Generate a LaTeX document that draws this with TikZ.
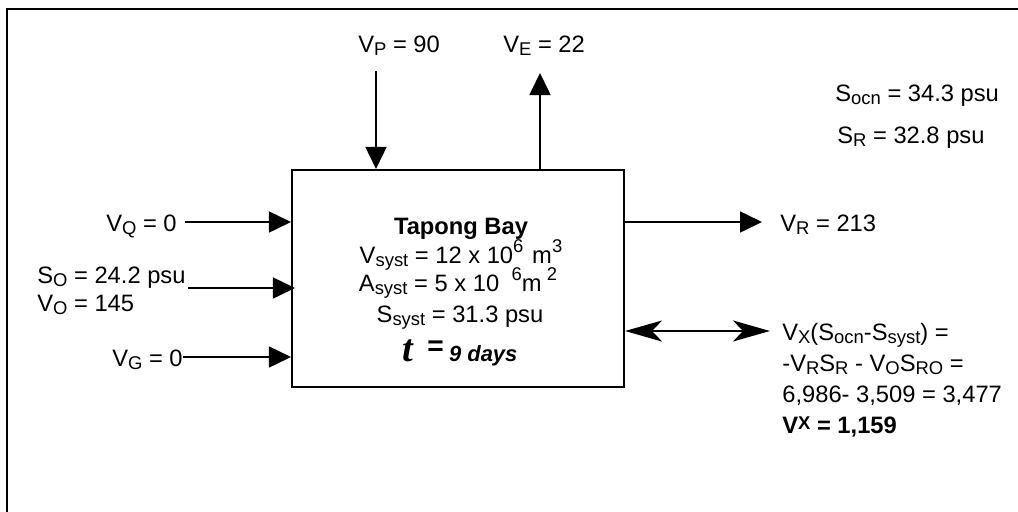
\documentclass[tikz,border=0pt]{standalone}
\usepackage{fontspec}
\setmainfont{Liberation Sans}
\newfontfamily\serifbi{Liberation Serif}
\usetikzlibrary{arrows.meta,positioning}

\newcommand{\subtxt}[1]{\raisebox{-0.3ex}{\fontsize{10.5}{10.5}\selectfont #1}}
\newcommand{\suptxt}[1]{\raisebox{0.8ex}{\fontsize{10.5}{10.5}\selectfont #1}}

\tikzset{
  frame/.style={draw=black, line width=1.1pt},
  baybox/.style={draw=black, line width=1.2pt, minimum width=6.64cm, minimum height=4.34cm, inner sep=0pt},
  lbl/.style={font=\fontsize{13.5}{16}\selectfont, inner sep=0pt},
  flow/.style={draw=black, line width=0.9pt, -{Triangle[length=0.44cm,width=0.42cm]}},
  exch/.style={draw=black, line width=1.2pt,
    {Stealth[length=0.74cm,width=0.42cm,inset=0.2cm]}-{Stealth[length=0.74cm,width=0.42cm,inset=0.2cm]}}
}

\begin{document}
\begin{tikzpicture}[x=0.02cm, y=-0.02cm]
  \useasboundingbox (0,0) rectangle (1018,511);
  % outer frame
  \draw[frame] (1030,9) -- (7,9) -- (7,520);

  % the bay
  \node[baybox] (bay) at (458,278.5) {};
  \node[lbl, anchor=base] (title) at (461,234) {\bfseries Tapong Bay};
  \node[lbl, anchor=base] (vsyst) at (461,263) {V\subtxt{syst} = 12 x 10\suptxt{6}\hspace{5pt}m\suptxt{3}};
  \node[lbl, anchor=base] (asyst) at (458,291) {A\subtxt{syst} = 5 x 10\hspace{7pt}\suptxt{6}m\hspace{3pt}\suptxt{2}};
  \node[lbl, anchor=base] (ssyst) at (460,322) {S\subtxt{syst} = 31.3 psu};
  \node[lbl, anchor=base] (tau) at (460,361) {{\fontsize{22}{22}\serifbi\bfseries\itshape t}\hspace{8pt}{\fontsize{16}{16}\selectfont\bfseries\raisebox{3pt}{=}}\hspace{3pt}{\fontsize{12.5}{14}\selectfont\bfseries\itshape 9 days}};

  % precipitation and evaporation
  \node[lbl, anchor=base west] (vp) at (358,52) {V\subtxt{P} = 90};
  \node[lbl, anchor=base west] (ve) at (503,52) {V\subtxt{E} = 22};
  \coordinate (pin) at (376,71);
  \coordinate (eout) at (540,73);
  \draw[flow] (pin) -- (pin |- bay.north);
  \draw[flow] (eout |- bay.north) -- (eout);

  % inflows from the left
  \node[lbl, anchor=base east] (vq) at (177,231) {V\subtxt{Q} = 0};
  \node[lbl, anchor=base west] (so) at (37,283) {S\subtxt{O} = 24.2 psu};
  \node[lbl, anchor=base west] (vo) at (37,311) {V\subtxt{O} = 145};
  \node[lbl, anchor=base east] (vg) at (183,366) {V\subtxt{G} = 0};
  \coordinate (qin) at (185,222);
  \coordinate (oin) at (188,288);
  \coordinate (gin) at (183,357);
  \draw[flow] (qin) -- (qin -| bay.west);
  \draw[flow] (oin) -- ([xshift=0.08cm]oin -| bay.west);
  \draw[flow] (gin) -- (gin -| bay.west);

  % ocean side
  \node[lbl, anchor=base west] (socn) at (835,101) {S\subtxt{ocn} = 34.3 psu};
  \node[lbl, anchor=base west] (sr) at (837,143) {S\subtxt{R} = 32.8 psu};
  \node[lbl, anchor=base west] (vr) at (780,231) {V\subtxt{R} = 213};
  \coordinate (rout) at (762,222);
  \draw[flow] (rout -| bay.east) -- (rout);

  % exchange
  \coordinate (xend) at (770,331);
  \draw[exch] (xend -| bay.east) -- (xend);
  \node[lbl, anchor=base west] (vx1) at (782,340) {V\subtxt{X}(S\subtxt{ocn}-S\subtxt{syst}) =};
  \node[lbl, anchor=base west] (vx2) at (782,371) {-V\subtxt{R}S\subtxt{R} - V\subtxt{O}S\subtxt{RO} =};
  \node[lbl, anchor=base west] (vx3) at (782,402) {6,986- 3,509 = 3,477};
  \node[lbl, anchor=base west] (vx4) at (782,433) {\bfseries V\raisebox{0.3ex}{\fontsize{10.5}{10.5}\selectfont X} = 1,159};
\end{tikzpicture}
\end{document}
